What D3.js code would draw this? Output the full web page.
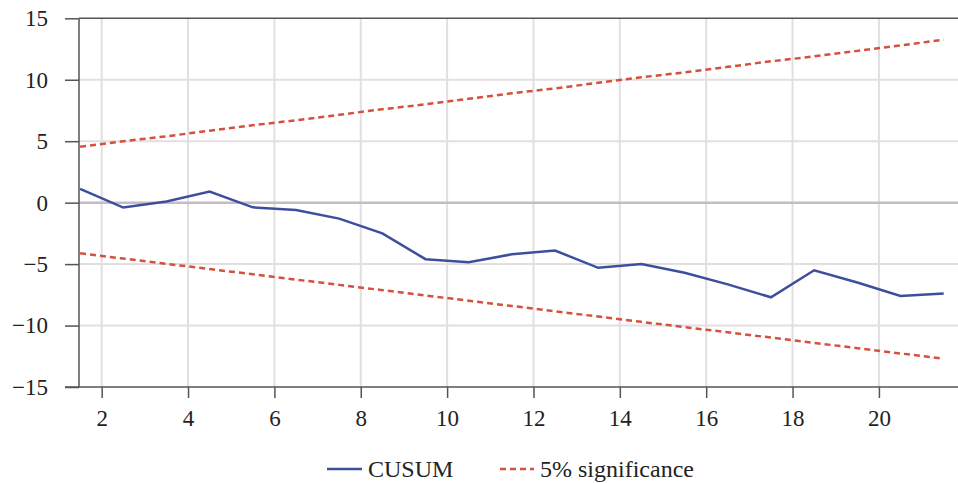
<!DOCTYPE html>
<html>
<head>
<meta charset="utf-8">
<script src="https://cdn.jsdelivr.net/npm/d3@7/dist/d3.min.js"></script>
<style>
  html, body { margin: 0; padding: 0; background: #fff; }
  svg { display: block; }
</style>
</head>
<body>
<svg id="chart" width="958" height="483"></svg>
<script>
// ---- Data ----
const periods = [1.5, 2.5, 3.5, 4.5, 5.5, 6.5, 7.5, 8.5, 9.5, 10.5, 11.5, 12.5, 13.5, 14.5, 15.5, 16.5, 17.5, 18.5, 19.5, 20.5, 21.5];
const cusum = [1.12, -0.4, 0.1, 0.9, -0.38, -0.6, -1.3, -2.5, -4.6, -4.85, -4.2, -3.9, -5.3, -5.0, -5.7, -6.65, -7.7, -5.5, -6.5, -7.6, -7.4];
const upper = [4.55, 5.0, 5.4, 5.85, 6.3, 6.7, 7.15, 7.6, 8.0, 8.45, 8.9, 9.3, 9.75, 10.2, 10.6, 11.05, 11.5, 11.9, 12.35, 12.8, 13.25];
const lower = [-4.12, -4.55, -4.98, -5.4, -5.83, -6.26, -6.69, -7.12, -7.55, -7.98, -8.41, -8.84, -9.27, -9.7, -10.13, -10.55, -10.98, -11.41, -11.84, -12.27, -12.7];
const xTicks = [2, 4, 6, 8, 10, 12, 14, 16, 18, 20];
const yTicks = [-15, -10, -5, 0, 5, 10, 15];
const seriesNames = ["CUSUM", "5% significance"];

(function () {
const FONT = "Liberation Serif";
// ---- Scales ----
const mLeft = 79, mTop = 18.3, mBottom = 387, mRight = 958.8;
const x = d3.scaleLinear().domain([1.475, 21.85]).range([mLeft, mRight]);
const y = d3.scaleLinear().domain([-15, 15]).range([mBottom, mTop]);

const svg = d3.select("#chart");
const blue = "#3d4f9c";
const red = "#d5503d";
const grid = "#e2dee2";
const axisCol = "#555";

// gridlines
svg.append("g").selectAll("line").data(xTicks).join("line")
  .attr("x1", d => x(d)).attr("x2", d => x(d))
  .attr("y1", mTop).attr("y2", mBottom)
  .attr("stroke", grid).attr("stroke-width", 2);
svg.append("g").selectAll("line").data(yTicks.filter(d => d !== 0 && Math.abs(d) !== 15)).join("line")
  .attr("x1", mLeft).attr("x2", 958)
  .attr("y1", d => y(d)).attr("y2", d => y(d))
  .attr("stroke", grid).attr("stroke-width", 2);
// zero line
svg.append("line")
  .attr("x1", mLeft).attr("x2", 958)
  .attr("y1", y(0)).attr("y2", y(0))
  .attr("stroke", "#c6bcc6").attr("stroke-width", 2.5);
// top border
svg.append("line")
  .attr("x1", mLeft).attr("x2", 958)
  .attr("y1", y(15)).attr("y2", y(15))
  .attr("stroke", axisCol).attr("stroke-width", 1.5);

// y axis
const yAxis = d3.axisLeft(y).tickValues(yTicks).tickSize(14).tickPadding(17)
  .tickFormat(d => d < 0 ? "\u2212" + Math.abs(d) : String(d));
const gy = svg.append("g").attr("transform", `translate(${mLeft},0)`).call(yAxis)
  .attr("font-family", FONT).attr("font-size", 23);
gy.select(".domain").remove();
gy.selectAll(".tick line").attr("stroke", axisCol).attr("stroke-width", 1.5);
gy.selectAll(".tick text").attr("fill", "#222");
svg.append("line").attr("x1", mLeft).attr("x2", mLeft).attr("y1", mTop).attr("y2", mBottom)
  .attr("stroke", axisCol).attr("stroke-width", 1.5);

// x axis
const xAxis = d3.axisBottom(x).tickValues(xTicks).tickSize(11).tickPadding(12).tickFormat(d3.format("d"));
const gx = svg.append("g").attr("transform", `translate(0,${mBottom})`).call(xAxis)
  .attr("font-family", FONT).attr("font-size", 23);
gx.select(".domain").remove();
gx.selectAll(".tick line").attr("stroke", axisCol).attr("stroke-width", 1.5);
gx.selectAll(".tick text").attr("fill", "#222");
svg.append("line").attr("x1", mLeft - 14).attr("x2", 958).attr("y1", mBottom).attr("y2", mBottom)
  .attr("stroke", axisCol).attr("stroke-width", 1.5);

// series
const line = d3.line().x((d, i) => x(periods[i])).y(d => y(d));
svg.append("path").datum(upper).attr("d", line)
  .attr("fill", "none").attr("stroke", red).attr("stroke-width", 2.5).attr("stroke-dasharray", "6,4");
svg.append("path").datum(lower).attr("d", line)
  .attr("fill", "none").attr("stroke", red).attr("stroke-width", 2.5).attr("stroke-dasharray", "6,4");
svg.append("path").datum(cusum).attr("d", line)
  .attr("fill", "none").attr("stroke", blue).attr("stroke-width", 2.5);

// legend
const lg = svg.append("g").attr("font-family", FONT).attr("font-size", 24).attr("fill", "#222");
lg.append("line").attr("x1", 327).attr("x2", 362).attr("y1", 469).attr("y2", 469)
  .attr("stroke", blue).attr("stroke-width", 2.5);
lg.append("text").attr("x", 368).attr("y", 476.5).text(seriesNames[0]);
lg.append("line").attr("x1", 500).attr("x2", 534).attr("y1", 469).attr("y2", 469)
  .attr("stroke", red).attr("stroke-width", 2.5).attr("stroke-dasharray", "6,4");
lg.append("text").attr("x", 540).attr("y", 476.5).text(seriesNames[1]);
})();
</script>
</body>
</html>
